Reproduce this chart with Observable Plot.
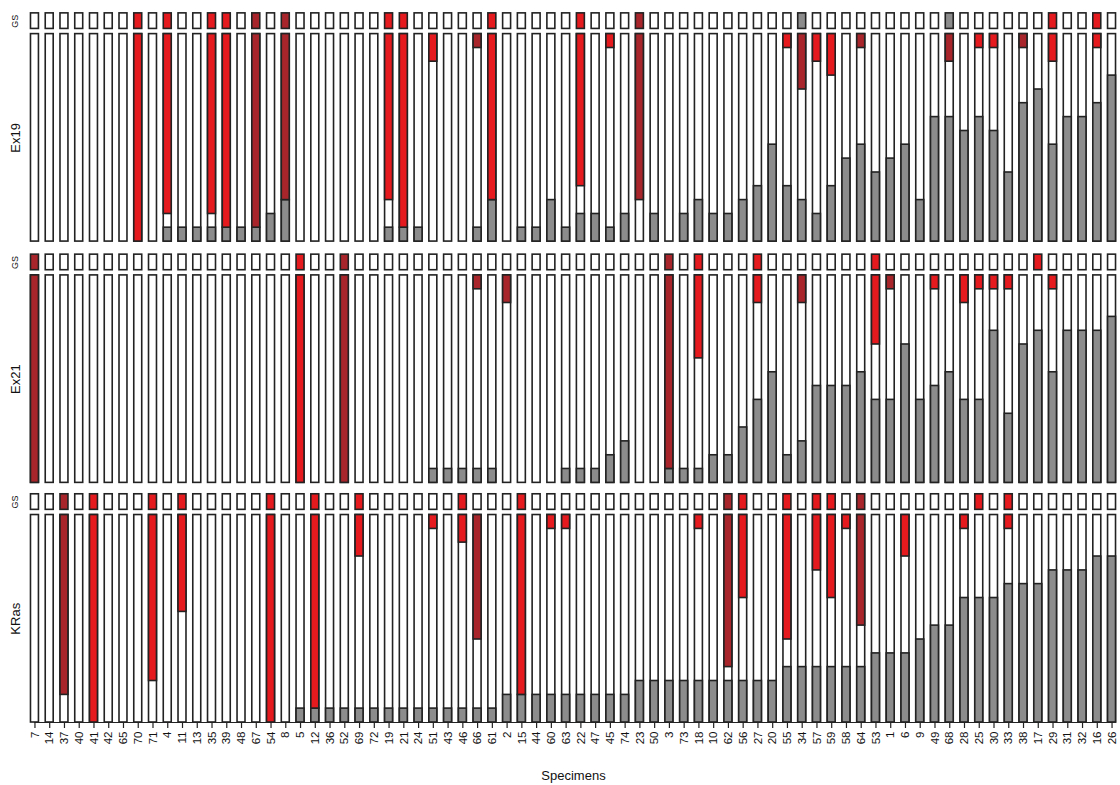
<!DOCTYPE html>
<html><head><meta charset="utf-8">
<script src="https://cdn.jsdelivr.net/npm/d3@7"></script>
<script src="https://cdn.jsdelivr.net/npm/@observablehq/plot@0.6"></script>
<style>body{margin:0;background:#fff} #chart{width:1120px;height:785px;overflow:hidden}</style>
</head><body><div id="chart"></div>
<script>
// Specimen labels (left to right)
const specimens = ["7","14","37","40","41","42","65","70","71","4",
  "11","13","35","39","48","67","54","8","5","12",
  "36","52","69","72","19","21","24","51","43","46",
  "66","61","2","15","44","60","63","22","47","45",
  "74","23","50","3","73","18","10","62","56","27",
  "20","55","34","57","59","58","64","53","1","6",
  "9","49","68","28","25","30","33","38","17","29",
  "31","32","16","26"];
const genes = ["Ex19","Ex21","KRas"];

// Ex19: grey fraction (bottom), red fraction (top), red type (1 red, 2 dark red), GS (0 white,1 red,2 dark red,3 grey)
const ex19Gray = [0,0,0,0,0,0,0,0,0,.067, .067,.067,.067,.067,.067,.067,.133,.2,0,0,
  0,0,0,0,.067,.067,.067,0,0,0, .067,.2,0,.067,.067,.2,.067,.133,.133,.067,
  .133,0,.133,0,.133,.2,.133,.133,.2,.267, .467,.267,.2,.133,.267,.4,.467,.333,.4,.467,
  .2,.6,.6,.533,.6,.533,.333,.667,.733,.467, .6,.6,.667,.8];
const ex19Red = [0,0,0,0,0,0,0,1,0,.867, 0,0,.867,.933,0,.933,0,.8,0,0,
  0,0,0,0,.8,.933,0,.133,0,0, .067,.8,0,0,0,0,0,.733,0,.067,
  0,.8,0,0,0,0,0,0,0,0, 0,.067,.267,.133,.2,0,.067,0,0,0,
  0,0,.133,0,.067,.067,0,.067,0,.133, 0,0,.067,0];
const ex19Type = [0,0,0,0,0,0,0,1,0,1, 0,0,1,1,0,2,0,2,0,0,
  0,0,0,0,1,1,0,1,0,0, 2,1,0,0,0,0,0,1,0,1,
  0,2,0,0,0,0,0,0,0,0, 0,1,2,1,1,0,2,0,0,0,
  0,0,2,0,1,1,0,2,0,1, 0,0,1,0];
const ex19GS = [0,0,0,0,0,0,0,1,0,1, 0,0,1,1,0,2,0,2,0,0,
  0,0,0,0,1,1,0,0,0,0, 0,1,0,0,0,0,0,1,0,0,
  0,2,0,0,0,0,0,0,0,0, 0,0,3,0,0,0,0,0,0,0,
  0,0,3,0,0,0,0,0,0,1, 0,0,1,0];

// Ex21
const ex21Gray = [0,0,0,0,0,0,0,0,0,0, 0,0,0,0,0,0,0,0,0,0,
  0,0,0,0,0,0,0,.067,.067,.067, .067,.067,0,0,0,0,.067,.067,.067,.133,
  .2,0,0,.067,.067,.067,.133,.133,.267,.4, .533,.133,.2,.467,.467,.467,.533,.4,.4,.667,
  .4,.467,.533,.4,.4,.733,.333,.667,.733,.533, .733,.733,.733,.8];
const ex21Red = [1,0,0,0,0,0,0,0,0,0, 0,0,0,0,0,0,0,0,1,0,
  0,1,0,0,0,0,0,0,0,0, .067,0,.133,0,0,0,0,0,0,0,
  0,0,0,.933,0,.4,0,0,0,.133, 0,0,.133,0,0,0,0,.333,.067,0,
  0,.067,0,.133,.067,.067,.067,0,0,.067, 0,0,0,0];
const ex21Type = [2,0,0,0,0,0,0,0,0,0, 0,0,0,0,0,0,0,0,1,0,
  0,2,0,0,0,0,0,0,0,0, 2,0,2,0,0,0,0,0,0,0,
  0,0,0,2,0,1,0,0,0,1, 0,0,2,0,0,0,0,1,2,0,
  0,1,0,1,1,1,1,0,0,1, 0,0,0,0];
const ex21GS = [2,0,0,0,0,0,0,0,0,0, 0,0,0,0,0,0,0,0,1,0,
  0,2,0,0,0,0,0,0,0,0, 0,0,0,0,0,0,0,0,0,0,
  0,0,0,2,0,1,0,0,0,1, 0,0,0,0,0,0,0,1,0,0,
  0,0,0,0,0,0,0,0,1,0, 0,0,0,0];

// KRas
const krasGray = [0,0,0,0,0,0,0,0,0,0, 0,0,0,0,0,0,0,0,.067,.067,
  .067,.067,.067,.067,.067,.067,.067,.067,.067,.067, .067,.067,.133,.133,.133,.133,.133,.133,.133,.133,
  .133,.2,.2,.2,.2,.2,.2,.2,.2,.2, .2,.267,.267,.267,.267,.267,.267,.333,.333,.333,
  .4,.467,.467,.6,.6,.6,.667,.667,.667,.733, .733,.733,.8,.8];
const krasRed = [0,0,.867,0,1,0,0,0,.8,0, .467,0,0,0,0,0,1,0,0,.933,
  0,0,.2,0,0,0,0,.067,0,.133, .6,0,0,.867,0,.067,.067,0,0,0,
  0,0,0,0,0,.067,0,.733,.4,0, 0,.6,0,.267,.4,.067,.533,0,0,.2,
  0,0,0,.067,0,0,.067,0,0,0, 0,0,0,0];
const krasType = [0,0,2,0,1,0,0,0,1,0, 1,0,0,0,0,0,1,0,0,1,
  0,0,1,0,0,0,0,1,0,1, 2,0,0,1,0,1,1,0,0,0,
  0,0,0,0,0,1,0,2,1,0, 0,1,0,1,1,1,2,0,0,1,
  0,0,0,1,0,0,1,0,0,0, 0,0,0,0];
const krasGS = [0,0,2,0,1,0,0,0,1,0, 1,0,0,0,0,0,1,0,0,1,
  0,0,1,0,0,0,0,0,0,1, 0,0,0,1,0,0,0,0,0,0,
  0,0,0,0,0,0,0,2,1,0, 0,1,0,1,1,0,2,0,0,0,
  0,0,0,0,1,0,1,0,0,0, 0,0,0,0];

const panels = [
  {gray: ex19Gray, red: ex19Red, type: ex19Type, gs: ex19GS},
  {gray: ex21Gray, red: ex21Red, type: ex21Type, gs: ex21GS},
  {gray: krasGray, red: krasRed, type: krasType, gs: krasGS}
];
// layout (vertical offsets of each panel, in bar-height units)
const panelBase = [2.318, 1.155, 0];
const gsLo = 1.025, gsHi = 1.1;
const RED = "#e41a1f", DKRED = "#a8262b", GREY = "#8c8c8c", OUT = "#222222";
const gsColors = ["#ffffff", RED, DKRED, GREY];

const rows = [];
panels.forEach((p, k) => p.gray.forEach((g, i) => rows.push({
  i, base: panelBase[k], gray: g, red: p.red[i], type: p.type[i], gs: p.gs[i]
})));
const idx = specimens.map((d, i) => i);

const sw = 1.6;
const chart = Plot.plot({
  width: 1120, height: 785,
  marginTop: 11, marginBottom: 63, marginLeft: 29, marginRight: 3,
  x: {type: "band", domain: idx, paddingInner: 0.46, paddingOuter: 0.1},
  y: {domain: [0, 3.427], axis: null},
  color: {type: "identity"},
  style: {fontFamily: "'Liberation Sans', Arial, sans-serif", background: "white"},
  marks: [
    Plot.barY(rows, {x: "i", y1: d => d.base, y2: d => d.base + 1, fill: "white", stroke: OUT, strokeWidth: sw}),
    Plot.barY(rows.filter(d => d.gray > 0), {x: "i", y1: d => d.base, y2: d => d.base + d.gray, fill: GREY, stroke: OUT, strokeWidth: sw}),
    Plot.barY(rows.filter(d => d.red > 0), {x: "i", y1: d => d.base + 1 - d.red, y2: d => d.base + 1, fill: d => d.type === 2 ? DKRED : RED, stroke: OUT, strokeWidth: sw}),
    Plot.barY(rows, {x: "i", y1: d => d.base + gsLo, y2: d => d.base + gsHi, fill: d => gsColors[d.gs], stroke: OUT, strokeWidth: sw}),
    Plot.lineY(idx, {x: d => d, y: 0, stroke: OUT, strokeWidth: 1.2}),
    Plot.axisX({tickRotate: -90, tickFormat: i => specimens[i], tickSize: 6, tickPadding: 3, fontSize: 11.5, stroke: OUT, strokeWidth: 1.2, fill: "#111", label: null}),
    Plot.text(genes, {y: (d, k) => panelBase[k] + 0.5, frameAnchor: "left", dx: -14, rotate: -90, textAnchor: "middle", text: d => d, fontSize: 13, fill: "#111"}),
    Plot.text(genes, {y: (d, k) => panelBase[k] + (gsLo + gsHi) / 2, frameAnchor: "left", dx: -14, rotate: -90, textAnchor: "middle", text: () => "GS", fontSize: 9, fill: "#111"}),
    Plot.text(["Specimens"], {frameAnchor: "bottom", dy: 53, lineAnchor: "middle", text: d => d, fontSize: 13, fill: "#111"})
  ]
});
document.getElementById("chart").appendChild(chart);
</script>
</body></html>
